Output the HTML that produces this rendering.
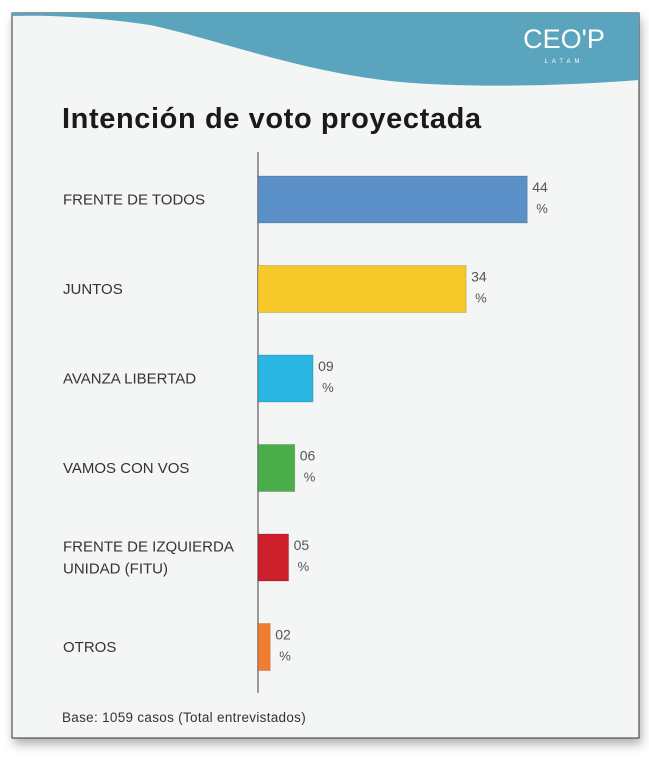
<!DOCTYPE html>
<html><head><meta charset="utf-8"><style>
body{margin:0;width:649px;height:770px;background:#fff;overflow:hidden;font-family:"Liberation Sans",sans-serif}
</style></head><body>
<svg width="649" height="770" viewBox="0 0 649 770" xmlns="http://www.w3.org/2000/svg">
<defs><filter id="sh" x="-5%" y="-5%" width="110%" height="115%"><feDropShadow dx="2" dy="6" stdDeviation="5" flood-color="#000" flood-opacity="0.3"/></filter></defs>
<rect x="12" y="13" width="627" height="725" fill="#f4f5f5" stroke="#333" stroke-width="1" filter="url(#sh)"/>
<path d="M12,13 L639,13 L639,80 C560,86 470,88 400,82 C300,72 220,40 150,25 C90,16 40,15 12,16 Z" fill="#5aa4bd"/>
<text x="564" y="48" font-size="27" fill="#fff" text-anchor="middle">CEO'P</text>
<text x="564" y="63" font-size="6" fill="#fff" text-anchor="middle" letter-spacing="4">LATAM</text>
<text x="62" y="128" font-size="29" font-weight="bold" fill="#1a1a1a" letter-spacing="0.6">Intención de voto proyectada</text>
<line x1="258" y1="152" x2="258" y2="693" stroke="#999" stroke-width="2"/>
<g id="bars"></g>
<text x="62" y="722" font-size="13.5" fill="#333" letter-spacing="0.3">Base: 1059 casos (Total entrevistados)</text>
</svg>
<script>
const categories = [["FRENTE DE TODOS"],["JUNTOS"],["AVANZA LIBERTAD"],["VAMOS CON VOS"],["FRENTE DE IZQUIERDA","UNIDAD (FITU)"],["OTROS"]];
const values = [44,34,9,6,5,2];
const valueLabels = ["44","34","09","06","05","02"];
const colors = ["#5b8fc7","#f7c82a","#29b6e3","#4aad4a","#cc1f2b","#ef7c30"];
const g = document.getElementById('bars');
const NS = "http://www.w3.org/2000/svg";
const x0 = 258, scale = 6.12, top0 = 176, step = 89.5, bh = 47;
const xs = v => x0 + v*scale;
function mk(t, a){const e=document.createElementNS(NS,t);for(const k in a)e.setAttribute(k,a[k]);g.appendChild(e);return e;}
values.forEach((v,i)=>{
  const y = top0 + i*step;
  const r = mk('rect',{x:x0,y:y,width:xs(v)-x0,height:bh,fill:colors[i],stroke:'rgba(0,0,0,0.15)'});
  
  
  const t1 = mk('text',{x:xs(v)+5,y:y+16,'font-size':14,fill:'#555'}); t1.textContent = valueLabels[i];
  
  
  const t2 = mk('text',{x:xs(v)+9,y:y+37,'font-size':13,fill:'#555'}); t2.textContent = '%';
  
  
  const lines = categories[i];
  lines.forEach((l,j)=>{
    const ty = y + bh/2 + 5 - (lines.length-1)*11 + j*22;
    const c = mk('text',{x:63,y:ty,'font-size':15,fill:'#333'}); c.textContent = l;
    
    
  });
});
</script>
</body></html>
